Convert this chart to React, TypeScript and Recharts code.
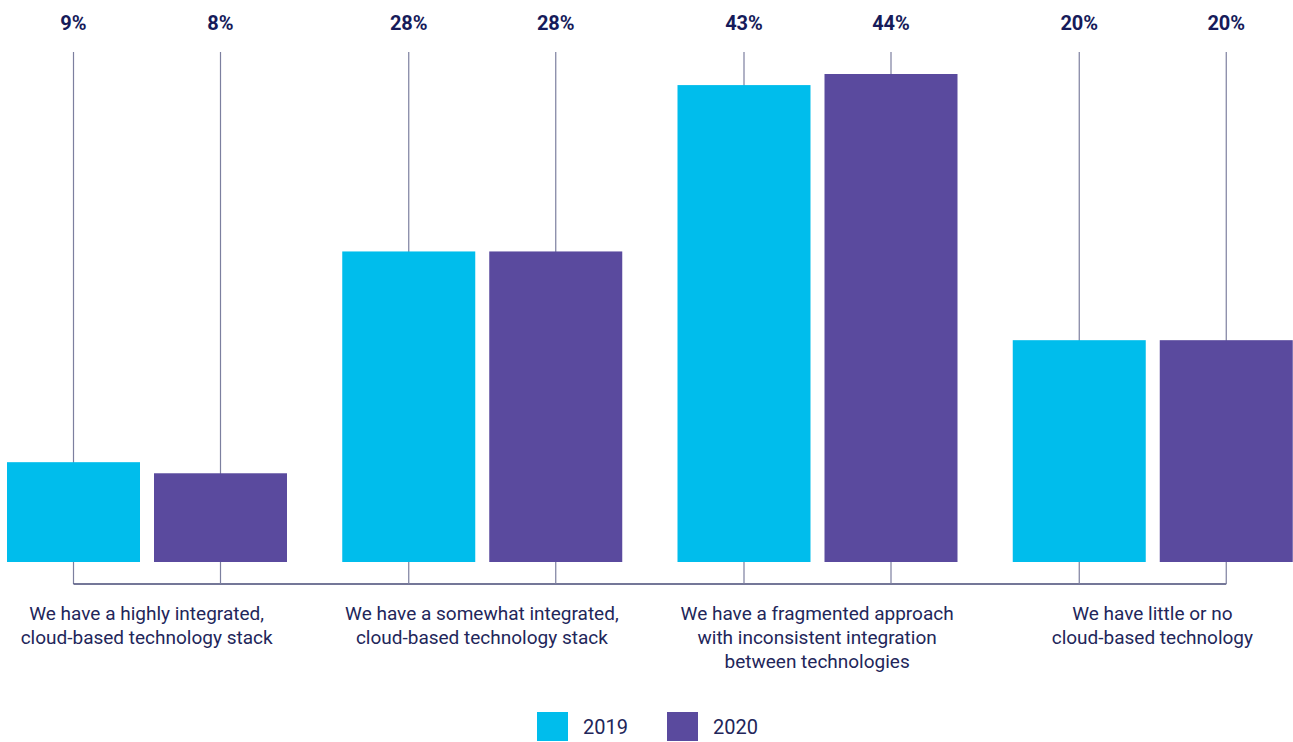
import { Bar, BarChart, LabelList, XAxis, YAxis } from 'recharts';

const categories = [
  'We have a highly integrated,\ncloud-based technology stack',
  'We have a somewhat integrated,\ncloud-based technology stack',
  'We have a fragmented approach\nwith inconsistent integration\nbetween technologies',
  'We have little or no\ncloud-based technology',
];
const values2019 = [9, 28, 43, 20];
const values2020 = [8, 28, 44, 20];
const seriesNames = ['2019', '2020'];

const rows = categories.map((name, i) => ({
  name,
  y2019: values2019[i],
  y2020: values2020[i],
}));

const CYAN = '#00bdec';
const PURPLE = '#5a4a9e';
const NAVY = '#161b5a';
const TEXT = '#22265a';
const STEM = '#7c7f9f';

const CHART_W = 1341;
const CHART_H = 742;
const BAR = 133;
const GAP = 14;
const BAND = CHART_W / categories.length;
const STEM_TOP = 52;
const BASE_Y = 584;

type ShapeProps = { x?: number; y?: number; width?: number; height?: number; index?: number };

// each bar carries its own stem that runs from under the label down to the bracket
function stemBar(fill: string, drawBracket: boolean) {
  return (p: ShapeProps) => {
    const x = p.x ?? 0;
    const w = p.width ?? 0;
    const cx = x + w / 2;
    return (
      <g>
        <line x1={cx} x2={cx} y1={STEM_TOP} y2={BASE_Y} stroke={STEM} strokeWidth={1.2} />
        {drawBracket && p.index === 0 && (
          <line
            x1={cx}
            x2={cx + BAND * (categories.length - 1) + BAR + GAP}
            y1={BASE_Y}
            y2={BASE_Y}
            stroke="#464a76"
            strokeWidth={1.6}
          />
        )}
        <rect x={x} y={p.y} width={w} height={p.height} fill={fill} />
      </g>
    );
  };
}

function TopLabel(p: { x?: number | string; width?: number | string; value?: number | string }) {
  const cx = Number(p.x) + Number(p.width) / 2;
  return (
    <text x={cx} y={30} textAnchor="middle" fill={NAVY} fontSize={20} fontWeight={700}>
      {`${p.value}%`}
    </text>
  );
}

function CategoryTick(p: { x?: number; y?: number; payload?: { value: string } }) {
  const lines = (p.payload?.value ?? '').split('\n');
  return (
    <text x={p.x} y={620} textAnchor="middle" fill={TEXT} fontSize={19}>
      {lines.map((l, i) => (
        <tspan key={i} x={p.x} dy={i === 0 ? 0 : 24}>
          {l}
        </tspan>
      ))}
    </text>
  );
}

export default function App() {
  return (
    <div
      style={{
        position: 'fixed',
        left: 0,
        top: 0,
        width: 1293,
        height: 742,
        overflow: 'hidden',
        background: '#fff',
        fontFamily: 'Roboto, sans-serif',
      }}
    >
      <div style={{ position: 'absolute', left: -21, top: 0 }}>
        <BarChart
          width={CHART_W}
          height={CHART_H}
          data={rows}
          margin={{ top: 74, right: 0, bottom: 50, left: 0 }}
          barSize={BAR}
          barGap={GAP}
        >
          <XAxis
            dataKey="name"
            axisLine={false}
            tickLine={false}
            height={130}
            interval={0}
            tick={<CategoryTick />}
          />
          <YAxis hide domain={[0, 44]} />
          <Bar dataKey="y2019" isAnimationActive={false} shape={stemBar(CYAN, true)}>
            <LabelList dataKey="y2019" content={<TopLabel />} />
          </Bar>
          <Bar dataKey="y2020" isAnimationActive={false} shape={stemBar(PURPLE, false)}>
            <LabelList dataKey="y2020" content={<TopLabel />} />
          </Bar>
        </BarChart>
      </div>
      <div
        style={{
          position: 'absolute',
          left: 537,
          top: 712,
          display: 'flex',
          alignItems: 'center',
          color: TEXT,
          fontSize: 20,
        }}
      >
        {seriesNames.map((s, i) => (
          <div key={s} style={{ display: 'flex', alignItems: 'center', marginRight: 39 }}>
            <div style={{ width: 31, height: 29, background: i === 0 ? CYAN : PURPLE }} />
            <span style={{ marginLeft: 15 }}>{s}</span>
          </div>
        ))}
      </div>
    </div>
  );
}
